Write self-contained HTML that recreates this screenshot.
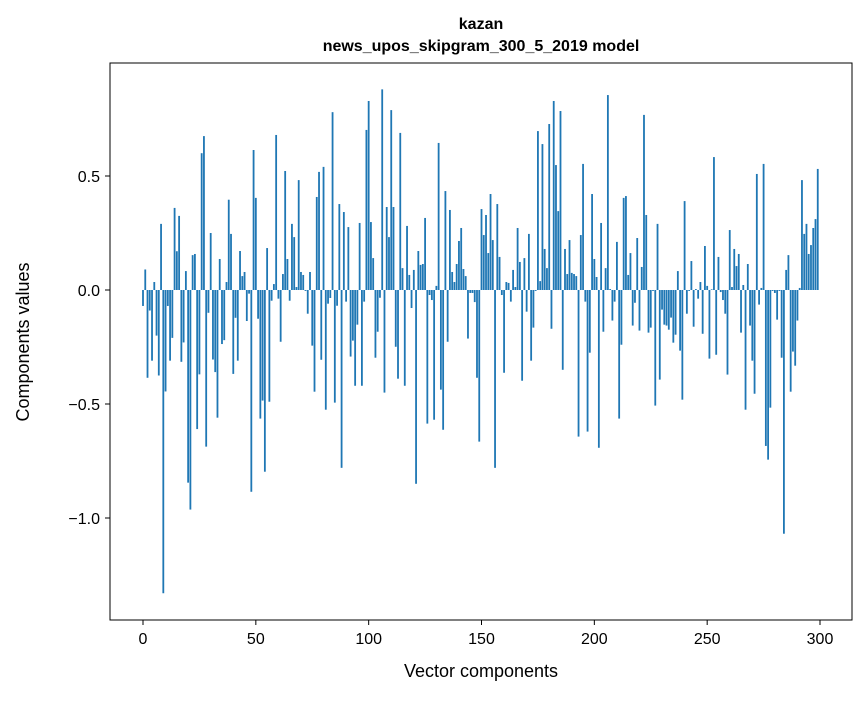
<!DOCTYPE html>
<html><head><meta charset="utf-8"><style>
body{margin:0;background:#fff;}
svg text{font-family:"Liberation Sans","DejaVu Sans",sans-serif;fill:#000;}
</style></head><body>
<svg id="chart" width="867" height="696" xmlns="http://www.w3.org/2000/svg">
<rect width="867" height="696" fill="#fff"/>
<text x="481" y="29" text-anchor="middle" font-size="16" font-weight="bold">kazan</text>
<text x="481" y="51" text-anchor="middle" font-size="16" font-weight="bold">news_upos_skipgram_300_5_2019 model</text>
<g id="bars"></g>
<g id="xticks"></g>
<g id="yticks"></g>
<rect x="110" y="63" width="742" height="557" fill="none" stroke="#000" stroke-width="1"/>
<text x="481" y="677" text-anchor="middle" font-size="18">Vector components</text>
<text transform="translate(29,342) rotate(-90)" text-anchor="middle" font-size="18">Components values</text>
</svg>
<script>
const values = [-0.07,0.09,-0.385,-0.09,-0.31,0.035,-0.2,-0.375,0.29,-1.33,
-0.445,-0.07,-0.31,-0.21,0.36,0.17,0.325,-0.315,-0.23,0.083,
-0.845,-0.963,0.153,0.158,-0.61,-0.37,0.6,0.675,-0.687,-0.1,
0.25,-0.305,-0.36,-0.56,0.136,-0.237,-0.22,0.035,0.396,0.246,
-0.368,-0.122,-0.31,0.171,0.061,0.079,-0.136,-0.016,-0.885,0.614,
0.404,-0.126,-0.564,-0.485,-0.797,0.184,-0.49,-0.047,0.026,0.68,
-0.038,-0.227,0.07,0.522,0.136,-0.047,0.29,0.232,0.013,0.482,
0.079,0.066,-0.004,-0.104,0.079,-0.244,-0.446,0.408,0.518,-0.306,
0.54,-0.525,-0.06,-0.035,0.78,-0.494,-0.069,0.377,-0.78,0.342,
-0.051,0.276,-0.292,-0.222,-0.42,-0.152,0.294,-0.42,-0.051,0.702,
0.829,0.298,0.14,-0.297,-0.183,-0.034,0.88,-0.45,0.364,0.232,
0.789,0.364,-0.249,-0.389,0.689,0.096,-0.42,0.281,0.066,-0.079,
0.088,-0.85,0.171,0.11,0.114,0.316,-0.586,-0.022,-0.044,-0.569,
0.018,0.645,-0.437,-0.613,0.434,-0.227,0.351,0.079,0.035,0.114,
0.215,0.272,0.092,0.061,-0.213,-0.013,-0.013,-0.053,-0.385,-0.665,
0.355,0.241,0.329,0.162,0.421,0.219,-0.78,0.377,0.145,-0.022,
-0.363,0.035,0.031,-0.051,0.088,0.013,0.272,0.123,-0.398,0.14,
-0.095,0.246,-0.31,-0.165,-0.004,0.697,0.039,0.64,0.18,0.096,
0.728,-0.17,0.829,0.548,0.346,0.785,-0.35,0.18,0.07,0.219,
0.075,0.07,0.061,-0.643,0.241,0.553,-0.051,-0.621,-0.275,0.421,
0.136,0.057,-0.692,0.294,-0.183,0.096,0.855,0.004,-0.134,-0.051,
0.211,-0.564,-0.24,0.404,0.412,0.066,0.162,-0.156,-0.056,0.228,
-0.178,0.101,0.768,0.329,-0.187,-0.165,-0.004,-0.507,0.29,-0.393,
-0.086,-0.152,-0.156,-0.174,-0.121,-0.231,-0.196,0.083,-0.266,-0.481,
0.39,-0.104,-0.004,0.127,-0.161,0.004,-0.038,0.035,-0.192,0.193,
0.018,-0.301,0.003,0.583,-0.284,0.145,-0.009,-0.044,-0.104,-0.371,
0.263,0.013,0.18,0.105,0.158,-0.187,0.022,-0.525,0.114,-0.156,
-0.31,-0.455,0.509,-0.064,0.009,0.553,-0.684,-0.744,-0.516,-0.004,
-0.013,-0.13,-0.004,-0.297,-1.069,0.088,0.153,-0.446,-0.27,-0.332,
-0.134,0.009,0.482,0.246,0.29,0.158,0.197,0.272,0.311,0.531];
const xTickValues = [0,50,100,150,200,250,300];
const xTickLabels = ["0","50","100","150","200","250","300"];
const yTickValues = [-1.0,-0.5,0.0,0.5];
const yTickLabels = ["\u22121.0","\u22120.5","0.0","0.5"];

const NS = "http://www.w3.org/2000/svg";
function xScale(v){ return 143 + v*2.2567; }
function yScale(v){ return 290 - v*228; }
const bw = 0.8*2.2567;
const barsG = document.getElementById('bars');
values.forEach((v,i)=>{
  const r = document.createElementNS(NS,'rect');
  const y0 = yScale(0), y1 = yScale(v);
  r.setAttribute('x', xScale(i)-bw/2);
  r.setAttribute('y', Math.min(y0,y1));
  r.setAttribute('width', bw);
  r.setAttribute('height', Math.abs(y1-y0));
  r.setAttribute('fill', '#1f77b4');
  
  
  barsG.appendChild(r);
});
const xg = document.getElementById('xticks');
xTickValues.forEach((v,i)=>{
  const x = xScale(v);
  const l = document.createElementNS(NS,'line');
  l.setAttribute('x1',x); l.setAttribute('x2',x); l.setAttribute('y1',620); l.setAttribute('y2',625);
  l.setAttribute('stroke','#000');
  
  
  xg.appendChild(l);
  const t = document.createElementNS(NS,'text');
  t.setAttribute('x',x); t.setAttribute('y',644); t.setAttribute('text-anchor','middle'); t.setAttribute('font-size','16');
  t.textContent = xTickLabels[i];
  
  
  xg.appendChild(t);
});
const yg = document.getElementById('yticks');
yTickValues.forEach((v,i)=>{
  const y = yScale(v);
  const l = document.createElementNS(NS,'line');
  l.setAttribute('x1',105); l.setAttribute('x2',110); l.setAttribute('y1',y); l.setAttribute('y2',y);
  l.setAttribute('stroke','#000');
  
  
  yg.appendChild(l);
  const t = document.createElementNS(NS,'text');
  t.setAttribute('x',100); t.setAttribute('y',y+6); t.setAttribute('text-anchor','end'); t.setAttribute('font-size','16');
  t.textContent = yTickLabels[i];
  
  
  yg.appendChild(t);
});
</script>
</body></html>
